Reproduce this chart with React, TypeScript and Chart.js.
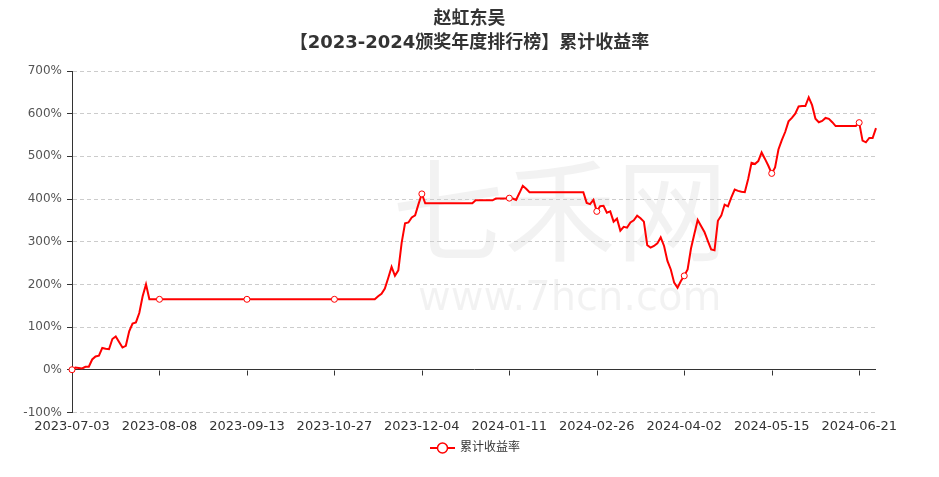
import { useEffect, useRef } from 'react';
import { Chart, registerables } from 'chart.js';

Chart.register(...registerables);

const TITLE_LINES = ['赵虹东吴', '【2023-2024颁奖年度排行榜】累计收益率'];
const SERIES_NAME = '累计收益率';
const WATERMARK_TEXT = '七禾网';
const WATERMARK_URL = 'www.7hcn.com';

const FIRST_DAY = '2023-07-03';
const LAST_DAY = '2024-06-28';
const MARKET_HOLIDAYS = [
  '2023-09-29', '2023-10-02', '2023-10-03', '2023-10-04', '2023-10-05', '2023-10-06',
  '2024-01-01', '2024-02-09', '2024-02-12', '2024-02-13', '2024-02-14', '2024-02-15',
  '2024-02-16', '2024-04-04', '2024-04-05', '2024-05-01', '2024-05-02', '2024-05-03',
  '2024-06-10',
];
const DAYS_WITHOUT_DATA = ['2023-12-29'];
const LABEL_EVERY = 26;

const Y_MIN = -100;
const Y_MAX = 700;
const Y_STEP = 100;

// cumulative return, %
const cumulativeReturnPct = [
  0, 5, 4, 3, 7, 7, 24, 31, 33, 51, 49, 48, 72, 78, 65, 52, 56, 90, 108, 111, 133, 172, 200,
  165, 165, 165, 165, 165, 165, 165, 165, 165, 165, 165, 165, 165, 165, 165, 165, 165,
  165, 165, 165, 165, 165, 165, 165, 165, 165, 165, 165, 165, 165, 165, 165, 165, 165,
  165, 165, 165, 165, 165, 165, 165, 165, 165, 165, 165, 165, 165, 165, 165, 165, 165,
  165, 165, 165, 165, 165, 165, 165, 165, 165, 165, 165, 165, 165, 165, 165, 165, 165,
  172, 178, 190, 215, 241, 220, 233, 298, 343, 345, 357, 362, 388, 412,
  390, 390, 390, 390, 390, 390, 390, 390, 390, 390, 390, 390, 390, 390, 390,
  397, 397, 397, 397, 397, 397,
  401, 401, 401, 401,
  402, 401, 398, 414, 431, 424,
  416, 416, 416, 416, 416, 416, 416, 416, 416, 416, 416, 416, 416, 416, 416, 416, 416,
  391, 388, 398, 371, 383, 384, 368, 371, 347, 354,
  326, 335, 333, 345, 350, 361, 355, 347, 292, 286,
  290, 296, 310, 290, 255, 235, 204, 192, 208, 220,
  235, 284, 318, 351, 337, 323, 302, 282, 280, 349,
  361, 387, 383, 404, 422, 419, 417, 416, 447, 485,
  482, 489, 509, 494, 478, 460, 474, 516, 538, 557,
  582, 590, 600, 617, 618, 618, 638, 620, 588, 580,
  583, 590, 588, 580, 571,
  571, 571, 571, 571, 571, 571,
  579, 537, 533, 543, 543, 566,
];

function buildTradingDays(): string[] {
  const skip = new Set([...MARKET_HOLIDAYS, ...DAYS_WITHOUT_DATA]);
  const out: string[] = [];
  const d = new Date(FIRST_DAY + 'T00:00:00Z');
  const end = new Date(LAST_DAY + 'T00:00:00Z');
  while (d.getTime() <= end.getTime()) {
    const dow = d.getUTCDay();
    const s = d.toISOString().slice(0, 10);
    if (dow !== 0 && dow !== 6 && !skip.has(s)) out.push(s);
    d.setUTCDate(d.getUTCDate() + 1);
  }
  return out;
}

const tradingDays = buildTradingDays();

const RED = '#ff0000';
const FONT = '"DejaVu Sans", "Noto Sans CJK SC", sans-serif';

const watermarkPlugin = {
  id: 'watermark',
  beforeDraw(chart: any) {
    const ctx = chart.ctx;
    ctx.save();
    ctx.fillStyle = 'rgba(0,0,0,0.05)';
    ctx.textBaseline = 'middle';
    ctx.textAlign = 'left';
    ctx.font = '112px "Noto Sans CJK SC"';
    ctx.fillText(WATERMARK_TEXT, 392, 210);
    ctx.textBaseline = 'alphabetic';
    ctx.font = '40px "DejaVu Sans"';
    ctx.fillText(WATERMARK_URL, 418, 310);
    ctx.restore();
  },
};

const titlePlugin = {
  id: 'centeredTitle',
  afterDraw(chart: any) {
    const ctx = chart.ctx;
    ctx.save();
    ctx.fillStyle = '#333';
    ctx.font = 'bold 18px ' + FONT;
    ctx.textAlign = 'center';
    ctx.textBaseline = 'middle';
    TITLE_LINES.forEach((line, k) => ctx.fillText(line, chart.width / 2, 19 + k * 24));
    ctx.restore();
  },
};

const zeroAxisTicksPlugin = {
  id: 'zeroAxisTicks',
  beforeDatasetsDraw(chart: any) {
    const { ctx, scales } = chart;
    const y0 = Math.round(scales.y.getPixelForValue(0)) + 0.5;
    ctx.save();
    ctx.strokeStyle = '#333';
    ctx.lineWidth = 1;
    ctx.beginPath();
    for (let i = 0; i < cumulativeReturnPct.length; i += LABEL_EVERY) {
      const x = Math.round(scales.x.getPixelForValue(i)) + 0.5;
      ctx.moveTo(x, y0);
      ctx.lineTo(x, y0 + 5);
    }
    ctx.stroke();
    ctx.restore();
  },
};

const legendPlugin = {
  id: 'customLegend',
  afterDraw(chart: any) {
    const ctx = chart.ctx;
    const y = 448;
    const iconLeft = 430;
    const iconW = 25;
    ctx.save();
    ctx.strokeStyle = RED;
    ctx.lineWidth = 2;
    ctx.beginPath();
    ctx.moveTo(iconLeft, y);
    ctx.lineTo(iconLeft + iconW, y);
    ctx.stroke();
    ctx.beginPath();
    ctx.arc(iconLeft + iconW / 2, y, 5, 0, Math.PI * 2);
    ctx.fillStyle = '#fff';
    ctx.fill();
    ctx.lineWidth = 1.5;
    ctx.stroke();
    ctx.fillStyle = '#333';
    ctx.font = '12px ' + FONT;
    ctx.textBaseline = 'middle';
    ctx.textAlign = 'left';
    ctx.fillText(SERIES_NAME, iconLeft + iconW + 5, y);
    ctx.restore();
  },
};

export default function App() {
  const canvasRef = useRef<HTMLCanvasElement | null>(null);

  useEffect(() => {
    if (!canvasRef.current) return;
    Chart.defaults.font.family = FONT;
    const chart = new Chart(canvasRef.current, {
      type: 'line',
      data: {
        labels: tradingDays.slice(0, cumulativeReturnPct.length),
        datasets: [
          {
            label: SERIES_NAME,
            data: cumulativeReturnPct,
            borderColor: RED,
            borderWidth: 2,
            tension: 0,
            fill: false,
            pointRadius: (c: any) => (c.dataIndex % LABEL_EVERY === 0 ? 3 : 0),
            pointHoverRadius: 0,
            pointBackgroundColor: '#fff',
            pointBorderColor: RED,
            pointBorderWidth: 1,
          },
        ],
      },
      options: {
        responsive: false,
        animation: false,
        devicePixelRatio: 1,
        events: [],
        layout: { padding: { left: 0, right: 63, top: 71, bottom: 37 } },
        plugins: {
          legend: { display: false },
          tooltip: { enabled: false },
          title: { display: false },
        },
        scales: {
          x: {
            grid: { display: false, drawTicks: false },
            border: { display: false },
            ticks: {
              autoSkip: false,
              maxRotation: 0,
              minRotation: 0,
              padding: 6,
              color: '#333',
              font: { size: 13 },
              callback: (_v: any, i: number) => (i % LABEL_EVERY === 0 ? tradingDays[i] : ''),
            },
          },
          y: {
            min: Y_MIN,
            max: Y_MAX,
            ticks: {
              stepSize: Y_STEP,
              padding: 5,
              color: '#555',
              font: { size: 12 },
              callback: (v: any) => v + '%',
            },
            grid: {
              color: (c: any) => (c.tick && c.tick.value === 0 ? '#333' : '#ccc'),
              tickColor: '#333',
              tickLength: 5,
              lineWidth: 1,
            },
            border: {
              display: true,
              color: '#333',
              dash: (c: any) => (c.tick && c.tick.value === 0 ? [] : [4, 3]),
            },
            afterFit: (s: any) => {
              s.width = 72;
            },
          },
        },
      } as any,
      plugins: [watermarkPlugin, zeroAxisTicksPlugin, titlePlugin, legendPlugin],
    });
    return () => chart.destroy();
  }, []);

  return (
    <div style={{ position: 'absolute', left: 0, top: 0, width: 939, height: 477, background: '#fff' }}>
      <canvas ref={canvasRef} width={939} height={477} style={{ width: 939, height: 477, display: 'block' }} />
    </div>
  );
}
